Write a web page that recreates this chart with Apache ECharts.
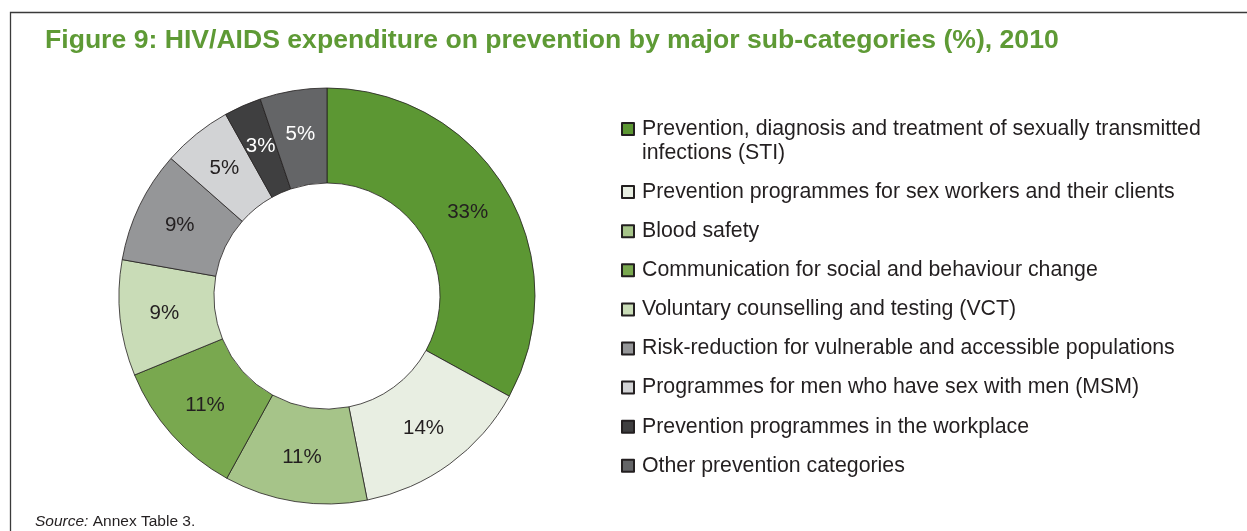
<!DOCTYPE html>
<html>
<head>
<meta charset="utf-8">
<script src="https://cdn.jsdelivr.net/npm/echarts@6/dist/echarts.min.js"></script>
<style>
html,body{margin:0;padding:0;background:#fff;}
#chart{width:1247px;height:531px;}
</style>
</head>
<body>
<div id="chart"></div>
<script>
const titleText = 'Figure 9: HIV/AIDS expenditure on prevention by major sub-categories (%), 2010';
const categories = [
  'Prevention, diagnosis and treatment of sexually transmitted infections (STI)',
  'Prevention programmes for sex workers and their clients',
  'Blood safety',
  'Communication for social and behaviour change',
  'Voluntary counselling and testing (VCT)',
  'Risk-reduction for vulnerable and accessible populations',
  'Programmes for men who have sex with men (MSM)',
  'Prevention programmes in the workplace',
  'Other prevention categories'
];
const shares = [33.0, 13.9, 11.1, 10.8, 9.0, 8.7, 5.4, 2.9, 5.2];
const colors = ['#5c9733', '#e8eee2', '#a6c489', '#79a84f', '#c9dcb7', '#959698', '#d2d3d5', '#3f3f40', '#646567'];
const labelColors = ['#231f20', '#231f20', '#231f20', '#231f20', '#231f20', '#231f20', '#231f20', '#ffffff', '#ffffff'];
const sourceLabel = 'Source:';
const sourceText = ' Annex Table 3.';

const FONT = '"Liberation Sans", Arial, Helvetica, sans-serif';
const chart = echarts.init(document.getElementById('chart'), null, {renderer: 'canvas'});

const pieData = categories.map((c, i) => ({
  name: c,
  value: shares[i],
  itemStyle: {color: colors[i]},
  label: {color: labelColors[i]}
}));

const legendData = categories.map((c, i) => i === 0
  ? {name: c, textStyle: {padding: [24, 0, 0, 3]}}
  : {name: c});

chart.setOption({
  animation: false,
  backgroundColor: '#ffffff',
  title: {
    text: titleText,
    left: 45,
    top: 27,
    padding: 0,
    textStyle: {fontFamily: FONT, fontSize: 26.6, fontWeight: 'bold', color: '#5e9a35'}
  },
  legend: {
    orient: 'vertical',
    left: 621,
    top: 93,
    padding: 0,
    itemGap: 15.1,
    itemWidth: 12,
    itemHeight: 12,
    icon: 'rect',
    selectedMode: false,
    data: legendData,
    formatter: name => '{t|' + name + '}',
    textStyle: {
      fontFamily: FONT,
      fontSize: 21.3,
      lineHeight: 24,
      color: '#231f20',
      width: 580,
      overflow: 'break',
      padding: [0, 0, 0, 3],
      rich: {
        t: {fontFamily: FONT, fontSize: 21.3, lineHeight: 24, color: '#231f20'}
      }
    }
  },
  graphic: [
    {
      type: 'polyline',
      silent: true,
      shape: {points: [[10.5, 531], [10.5, 12.5], [1247, 12.5]]},
      style: {stroke: '#3a3a3a', lineWidth: 1.3, fill: null}
    },
    {
      type: 'text',
      left: 35,
      top: 514,
      silent: true,
      style: {
        text: '{i|' + sourceLabel + '}{n|' + sourceText + '}',
        rich: {
          i: {fontFamily: FONT, fontSize: 15.5, fontStyle: 'italic', fill: '#231f20'},
          n: {fontFamily: FONT, fontSize: 15.5, fill: '#231f20'}
        }
      }
    }
  ],
  series: [{
    type: 'pie',
    center: [327, 296],
    radius: [113, 208],
    startAngle: 90,
    clockwise: true,
    avoidLabelOverlap: false,
    data: pieData,
    itemStyle: {borderColor: '#231f20', borderWidth: 0.8},
    label: {
      show: true,
      position: 'inside',
      fontFamily: FONT,
      fontSize: 20.5,
      formatter: p => Math.round(p.value) + '%'
    },
    labelLine: {show: false},
    emphasis: {disabled: true}
  }]
});
</script>
</body>
</html>
